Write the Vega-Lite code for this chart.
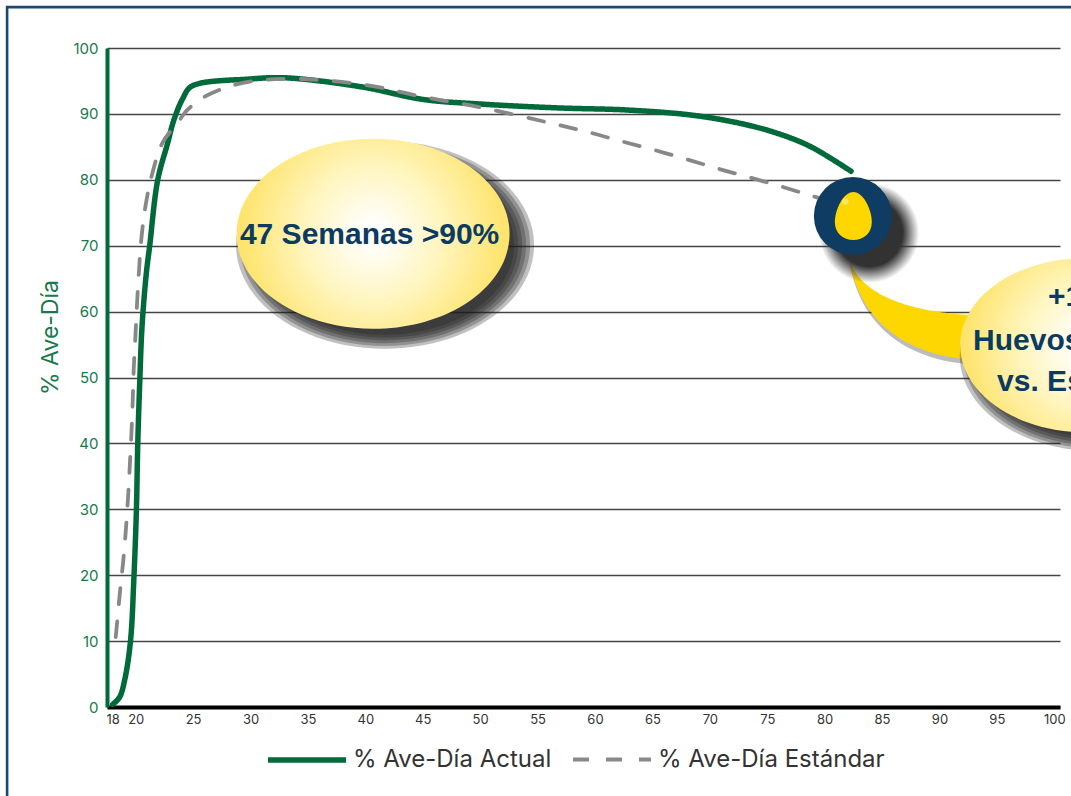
{
"$schema":"https://vega.github.io/schema/vega-lite/v6.json",
"width":953,"height":659,
"autosize":{"type":"none"},
"padding":{"left":107,"top":48,"right":11,"bottom":89},
"background":"white",
"config":{"view":{"stroke":null},"font":"Inter"},
"datasets":{
"series":[
{"week":18,"pct":0.4,"series":"% Ave-Día Actual"},{"week":18.6,"pct":1.5,"series":"% Ave-Día Actual"},{"week":19.04,"pct":4.1,"series":"% Ave-Día Actual"},{"week":19.54,"pct":9.9,"series":"% Ave-Día Actual"},{"week":19.85,"pct":19.9,"series":"% Ave-Día Actual"},{"week":20.06,"pct":29.9,"series":"% Ave-Día Actual"},{"week":20.18,"pct":40,"series":"% Ave-Día Actual"},{"week":20.35,"pct":49.2,"series":"% Ave-Día Actual"},{"week":20.55,"pct":57.7,"series":"% Ave-Día Actual"},{"week":20.93,"pct":65.9,"series":"% Ave-Día Actual"},{"week":21.22,"pct":70,"series":"% Ave-Día Actual"},{"week":21.92,"pct":80,"series":"% Ave-Día Actual"},{"week":22.79,"pct":85.6,"series":"% Ave-Día Actual"},{"week":23.31,"pct":89,"series":"% Ave-Día Actual"},{"week":24.09,"pct":92.3,"series":"% Ave-Día Actual"},{"week":24.88,"pct":94.2,"series":"% Ave-Día Actual"},{"week":30,"pct":95.3,"series":"% Ave-Día Actual"},{"week":32.5,"pct":95.5,"series":"% Ave-Día Actual"},{"week":35,"pct":95.2,"series":"% Ave-Día Actual"},{"week":40,"pct":94,"series":"% Ave-Día Actual"},{"week":45,"pct":92.2,"series":"% Ave-Día Actual"},{"week":50,"pct":91.5,"series":"% Ave-Día Actual"},{"week":56.9,"pct":90.9,"series":"% Ave-Día Actual"},{"week":62.7,"pct":90.6,"series":"% Ave-Día Actual"},{"week":68.5,"pct":89.8,"series":"% Ave-Día Actual"},{"week":72.8,"pct":88.5,"series":"% Ave-Día Actual"},{"week":75.8,"pct":87.1,"series":"% Ave-Día Actual"},{"week":78.7,"pct":85.1,"series":"% Ave-Día Actual"},{"week":82.3,"pct":81.3,"series":"% Ave-Día Actual"},
{"week":18.26,"pct":10.6,"series":"% Ave-Día Estándar"},{"week":18.67,"pct":18.2,"series":"% Ave-Día Estándar"},{"week":18.9,"pct":21.9,"series":"% Ave-Día Estándar"},{"week":19.13,"pct":26.6,"series":"% Ave-Día Estándar"},{"week":19.33,"pct":31.7,"series":"% Ave-Día Estándar"},{"week":19.48,"pct":36.4,"series":"% Ave-Día Estándar"},{"week":19.63,"pct":41.6,"series":"% Ave-Día Estándar"},{"week":19.74,"pct":46.5,"series":"% Ave-Día Estándar"},{"week":19.83,"pct":51.4,"series":"% Ave-Día Estándar"},{"week":19.98,"pct":56.4,"series":"% Ave-Día Estándar"},{"week":20.12,"pct":61.3,"series":"% Ave-Día Estándar"},{"week":20.29,"pct":66.3,"series":"% Ave-Día Estándar"},{"week":20.5,"pct":71.2,"series":"% Ave-Día Estándar"},{"week":20.87,"pct":76.2,"series":"% Ave-Día Estándar"},{"week":21.45,"pct":81,"series":"% Ave-Día Estándar"},{"week":22.33,"pct":85.6,"series":"% Ave-Día Estándar"},{"week":23.83,"pct":89.1,"series":"% Ave-Día Estándar"},{"week":24.5,"pct":90.6,"series":"% Ave-Día Estándar"},{"week":26,"pct":92.6,"series":"% Ave-Día Estándar"},{"week":28.2,"pct":94.2,"series":"% Ave-Día Estándar"},{"week":30.8,"pct":95.1,"series":"% Ave-Día Estándar"},{"week":34.3,"pct":95.3,"series":"% Ave-Día Estándar"},{"week":40,"pct":94.4,"series":"% Ave-Día Estándar"},{"week":45,"pct":92.6,"series":"% Ave-Día Estándar"},{"week":50,"pct":91,"series":"% Ave-Día Estándar"},{"week":56.9,"pct":88.3,"series":"% Ave-Día Estándar"},{"week":59.7,"pct":87.1,"series":"% Ave-Día Estándar"},{"week":62.4,"pct":85.8,"series":"% Ave-Día Estándar"},{"week":65.2,"pct":84.5,"series":"% Ave-Día Estándar"},{"week":68,"pct":83.1,"series":"% Ave-Día Estándar"},{"week":70.7,"pct":81.7,"series":"% Ave-Día Estándar"},{"week":73.4,"pct":80.4,"series":"% Ave-Día Estándar"},{"week":76.2,"pct":79,"series":"% Ave-Día Estándar"},{"week":78.8,"pct":77.6,"series":"% Ave-Día Estándar"},{"week":80.8,"pct":76.6,"series":"% Ave-Día Estándar"}
],
"s1":[{"week":41.72,"pct":70.1}],
"s2":[{"week":103.7,"pct":53.3}]
},
"encoding":{
"x":{"field":"week","type":"quantitative","title":null,
"scale":{"domain":[17.5,100.5],"nice":false,"zero":false},
"axis":{"values":[18,20,25,30,35,40,45,50,55,60,65,70,75,80,85,90,95,100],"grid":false,"ticks":false,"labelFontSize":13,"labelColor":"#333333","labelPadding":6,"labelFlush":false,"labelOverlap":false,"domainColor":"#000000","domainWidth":4,"orient":"bottom"}},
"y":{"field":"pct","type":"quantitative","title":"% Ave-Día",
"scale":{"domain":[0,100],"nice":false},
"axis":{"values":[0,10,20,30,40,50,60,70,80,90,100],"grid":true,"gridColor":"#444444","gridWidth":1.3,"ticks":false,"labelFontSize":15,"labelColor":"#17794d","labelPadding":9,"domainColor":"#006a3a","domainWidth":4,"titleColor":"#17794d","titleFontSize":23,"titleFontWeight":"normal","titleX":-45,"titleY":289,"titleAlign":"center"}}
},
"layer":[
{"data":{"values":[{"week":8.8,"pct":-14},{"week":8.8,"pct":106.2},{"week":102,"pct":106.2}]},
 "mark":{"type":"line","stroke":"#1a4a72","strokeWidth":2.6}},
{"data":{"name":"series"},
 "mark":{"type":"line","interpolate":"catmull-rom","strokeCap":"round"},
 "encoding":{
  "color":{"field":"series","type":"nominal","title":null,"sort":["% Ave-Día Actual","% Ave-Día Estándar"],
   "scale":{"domain":["% Ave-Día Actual","% Ave-Día Estándar"],"range":["#006a3a","#888888"]},
   "legend":{"orient":"none","legendX":158,"legendY":670,"columns":2,"columnPadding":13,"symbolType":"stroke","symbolSize":6084,"labelFontSize":24,"labelColor":"#333333","labelOffset":4,"labelLimit":300}},
  "strokeDash":{"field":"series","type":"nominal","sort":["% Ave-Día Actual","% Ave-Día Estándar"],
   "scale":{"domain":["% Ave-Día Actual","% Ave-Día Estándar"],"range":[[1,0],[16,17]]}},
  "strokeWidth":{"field":"series","type":"nominal","sort":["% Ave-Día Actual","% Ave-Día Estándar"],
   "scale":{"domain":["% Ave-Día Actual","% Ave-Día Estándar"],"range":[5.5,3.8]}},
  "order":{"field":"series","sort":"descending"}
 }},
{"data":{"values":[{"week":87.36,"pct":61}]},
 "mark":{"type":"point","filled":true,"opacity":0.3,"fill":"#222222","xOffset":1,"yOffset":5,"size":40000,"shape":"M-0.61,-0.5C-0.55,-0.2 -0.2,0.05 0.6,0.1L0.55,0.54C0,0.48 -0.5,0.2 -0.61,-0.5Z"}},
{"data":{"values":[{"week":87.36,"pct":61}]},
 "mark":{"type":"point","filled":true,"opacity":1,"fill":"#ffd700","size":40000,"shape":"M-0.61,-0.5C-0.55,-0.2 -0.2,0.05 0.6,0.1L0.55,0.54C0,0.48 -0.5,0.2 -0.61,-0.5Z"}},
{"data":{"name":"s1"},"mark":{"type":"point","filled":true,"opacity":0.28,"fill":"#1c1c1c","size":88804,"shape":"M-1,0A1,0.696 0 1,1 1,0A1,0.696 0 1,1 -1,0Z"}},
{"data":{"name":"s1"},"mark":{"type":"point","filled":true,"opacity":0.28,"fill":"#1c1c1c","size":84100,"shape":"M-1,0A1,0.696 0 1,1 1,0A1,0.696 0 1,1 -1,0Z"}},
{"data":{"name":"s1"},"mark":{"type":"point","filled":true,"opacity":0.28,"fill":"#1c1c1c","size":79524,"shape":"M-1,0A1,0.696 0 1,1 1,0A1,0.696 0 1,1 -1,0Z"}},
{"data":{"name":"s1"},"mark":{"type":"point","filled":true,"opacity":0.28,"fill":"#1c1c1c","size":75076,"shape":"M-1,0A1,0.696 0 1,1 1,0A1,0.696 0 1,1 -1,0Z"}},
{"data":{"name":"s1"},"mark":{"type":"point","filled":true,"opacity":0.28,"fill":"#1c1c1c","size":70756,"shape":"M-1,0A1,0.696 0 1,1 1,0A1,0.696 0 1,1 -1,0Z"}},
{"data":{"name":"s1"},"mark":{"type":"point","filled":true,"opacity":0.28,"fill":"#1c1c1c","size":66564,"shape":"M-1,0A1,0.696 0 1,1 1,0A1,0.696 0 1,1 -1,0Z"}},
{"data":{"name":"s2"},"mark":{"type":"point","filled":true,"opacity":0.28,"fill":"#1c1c1c","size":75076,"shape":"M-1,0A1,0.696 0 1,1 1,0A1,0.696 0 1,1 -1,0Z"}},
{"data":{"name":"s2"},"mark":{"type":"point","filled":true,"opacity":0.28,"fill":"#1c1c1c","size":70756,"shape":"M-1,0A1,0.696 0 1,1 1,0A1,0.696 0 1,1 -1,0Z"}},
{"data":{"name":"s2"},"mark":{"type":"point","filled":true,"opacity":0.28,"fill":"#1c1c1c","size":66564,"shape":"M-1,0A1,0.696 0 1,1 1,0A1,0.696 0 1,1 -1,0Z"}},
{"data":{"name":"s2"},"mark":{"type":"point","filled":true,"opacity":0.28,"fill":"#1c1c1c","size":62500,"shape":"M-1,0A1,0.696 0 1,1 1,0A1,0.696 0 1,1 -1,0Z"}},
{"data":{"name":"s2"},"mark":{"type":"point","filled":true,"opacity":0.28,"fill":"#1c1c1c","size":58564,"shape":"M-1,0A1,0.696 0 1,1 1,0A1,0.696 0 1,1 -1,0Z"}},
{"data":{"name":"s2"},"mark":{"type":"point","filled":true,"opacity":0.28,"fill":"#1c1c1c","size":54756,"shape":"M-1,0A1,0.696 0 1,1 1,0A1,0.696 0 1,1 -1,0Z"}},
{"data":{"values":[{"week":40.67,"pct":71.8}]},
 "mark":{"type":"point","filled":true,"opacity":1,"size":74529,"shape":"M-1,0A1,0.696 0 1,1 1,0A1,0.696 0 1,1 -1,0Z",
 "fill":{"gradient":"radial","x1":0.5,"y1":0.5,"r1":0.03,"x2":0.5,"y2":0.5,"r2":0.48,"stops":[{"offset":0,"color":"#ffffff"},{"offset":0.5,"color":"#fff5bd"},{"offset":1,"color":"#fee46e"}]}}},
{"data":{"values":[{"week":102.7,"pct":54.9}]},
 "mark":{"type":"point","filled":true,"opacity":1,"size":62500,"shape":"M-1,0A1,0.696 0 1,1 1,0A1,0.696 0 1,1 -1,0Z",
 "fill":{"gradient":"radial","x1":0.5,"y1":0.5,"r1":0.03,"x2":0.5,"y2":0.5,"r2":0.48,"stops":[{"offset":0,"color":"#ffffff"},{"offset":0.5,"color":"#fff5bd"},{"offset":1,"color":"#fee46e"}]}}},
{"data":{"values":[{"week":83.88,"pct":71.93}]},
 "mark":{"type":"point","filled":true,"opacity":1,"size":10000,"shape":"circle",
 "fill":{"gradient":"radial","x1":0.5,"y1":0.5,"r1":0.2,"x2":0.5,"y2":0.5,"r2":0.5,"stops":[{"offset":0,"color":"rgba(50,50,50,1)"},{"offset":0.45,"color":"rgba(50,50,50,1)"},{"offset":1,"color":"rgba(50,50,50,0)"}]}}},
{"data":{"values":[{"week":82.46,"pct":74.5}]},
 "mark":{"type":"point","filled":true,"opacity":1,"size":6084,"shape":"circle","fill":"#0f3c63"}},
{"data":{"values":[{"week":82.5,"pct":74.5}]},
 "mark":{"type":"point","filled":true,"opacity":1,"fill":"#ffd700","size":2304,"shape":"M0,-1C0.42,-1 0.77,-0.25 0.77,0.25C0.77,0.72 0.42,1 0,1C-0.42,1 -0.77,0.72 -0.77,0.25C-0.77,-0.25 -0.42,-1 0,-1Z"}},
{"data":{"values":[{"week":81.8,"pct":76.7}]},
 "mark":{"type":"point","filled":true,"opacity":0.6,"fill":"#fff3a0","size":40,"shape":"circle"}},
{"data":{"values":[{"week":40.37,"pct":71.6,"label":"47 Semanas >90%"}]},
 "mark":{"type":"text","font":"Liberation Sans","fontWeight":"bold","fontSize":30,"color":"#0b3a63","align":"center","baseline":"middle"},
 "encoding":{"text":{"field":"label"}}},
{"data":{"values":[{"week":99.46,"pct":62.2,"label":"+1"},{"week":92.93,"pct":55.6,"label":"Huevos"},{"week":95.02,"pct":49.3,"label":"vs. Estándar"}]},
 "mark":{"type":"text","font":"Liberation Sans","fontWeight":"bold","fontSize":30,"color":"#0b3a63","align":"left","baseline":"middle"},
 "encoding":{"text":{"field":"label"}}}
]
}
